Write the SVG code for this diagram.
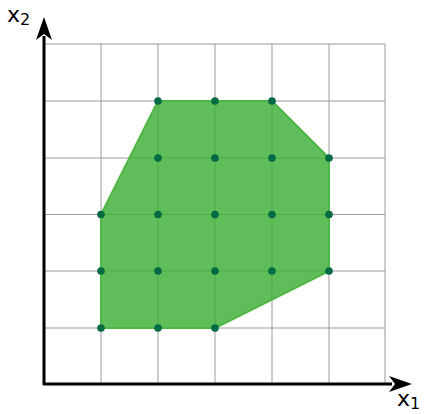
<svg xmlns="http://www.w3.org/2000/svg" width="424" height="414" viewBox="0 0 424 414">
<style>
.grid{stroke:#9a9a9a;stroke-width:1;fill:none}
.axis{stroke:#000;stroke-width:3;fill:none}
.pt{fill:#006a43}
.lbl{font-family:"DejaVu Sans",sans-serif;font-size:22px;fill:#000}
.sub{font-size:16px}
</style>
<g id="grid" class="grid">
<path d="M101,44V384M158,44V384M215,44V384M272,44V384M329,44V384M385,44V384"/>
<path d="M44,44H385M44,101H385M44,158H385M44,214.5H385M44,271H385M44,328H385"/>
</g>
<g id="polygon">
<polygon points="101,328 215,328 329,271 329,158 272,101 158,101 101,214.5" fill="#3cb034" fill-opacity="0.82" stroke="#4db746" stroke-width="2" stroke-linejoin="round"/>
</g>
<g id="connectors">
<line class="axis" x1="44" y1="385" x2="44" y2="36"/>
<path d="M44,17 L52,40 L44,34 L36,40 Z" fill="#000"/>
<line class="axis" x1="43" y1="384" x2="392" y2="384"/>
<path d="M412,384 L389,392 L395,384 L389,376 Z" fill="#000"/>
</g>
<g id="points">
<circle class="pt" cx="158" cy="101" r="3.8"/><circle class="pt" cx="215" cy="101" r="3.8"/><circle class="pt" cx="272" cy="101" r="3.8"/>
<circle class="pt" cx="158" cy="158" r="3.8"/><circle class="pt" cx="215" cy="158" r="3.8"/><circle class="pt" cx="272" cy="158" r="3.8"/><circle class="pt" cx="329" cy="158" r="3.8"/>
<circle class="pt" cx="101" cy="214.5" r="3.8"/><circle class="pt" cx="158" cy="214.5" r="3.8"/><circle class="pt" cx="215" cy="214.5" r="3.8"/><circle class="pt" cx="272" cy="214.5" r="3.8"/><circle class="pt" cx="329" cy="214.5" r="3.8"/>
<circle class="pt" cx="101" cy="271" r="3.8"/><circle class="pt" cx="158" cy="271" r="3.8"/><circle class="pt" cx="215" cy="271" r="3.8"/><circle class="pt" cx="272" cy="271" r="3.8"/><circle class="pt" cx="329" cy="271" r="3.8"/>
<circle class="pt" cx="101" cy="328" r="3.8"/><circle class="pt" cx="158" cy="328" r="3.8"/><circle class="pt" cx="215" cy="328" r="3.8"/>
</g>
<g id="label-x2"><text class="lbl" x="7" y="22">x<tspan class="sub" dy="3">2</tspan></text></g>
<g id="label-x1"><text class="lbl" x="397" y="406">x<tspan class="sub" dy="3">1</tspan></text></g>
</svg>
